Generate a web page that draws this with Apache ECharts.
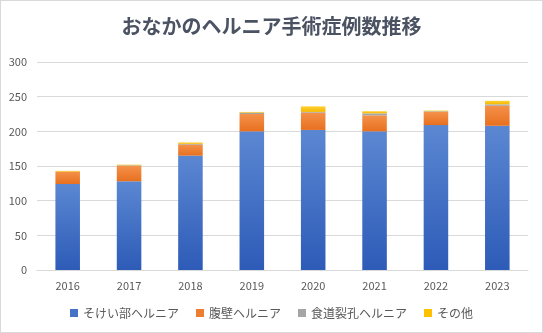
<!DOCTYPE html>
<html>
<head>
<meta charset="utf-8">
<script src="https://cdn.jsdelivr.net/npm/echarts@6/dist/echarts.min.js"></script>
<style>
html,body{margin:0;padding:0;background:#fff;}
#c{width:541px;height:331px;border:1px solid #d9d9d9;}
</style>
</head>
<body>
<div id="c"></div>
<script>
const categories = ['2016','2017','2018','2019','2020','2021','2022','2023'];
const inguinal = [124,128,165,200,202,200,209,208];
const ventral  = [18,22,16,25,25,23,19,29];
const hiatal   = [0,1,1,2,1,3,1,2];
const other    = [1,1,2,1,8,3,1,5];
const seriesNames = ['そけい部ヘルニア','腹壁ヘルニア','食道裂孔ヘルニア','その他'];
const yTicks = [0,50,100,150,200,250,300];

const grad = (top, bottom) => new echarts.graphic.LinearGradient(0,0,0,1,[{offset:0,color:top},{offset:1,color:bottom}]);
const font = '"Noto Sans CJK JP", "Noto Sans", sans-serif';
const chart = echarts.init(document.getElementById('c'));
const mk = (name, data, color) => ({
  name, type:'bar', stack:'total', data, barWidth:'40%',
  itemStyle:{color}, emphasis:{disabled:true}
});
chart.setOption({
  animation:false,
  title:{text:'おなかのヘルニア手術症例数推移', left:'center', top:10,
    textStyle:{fontFamily:font, fontSize:20, fontWeight:'bold', color:'#4b5363'}},
  legend:{bottom:8, left:'center', itemWidth:8, itemHeight:8, itemGap:17, icon:'rect',
    textStyle:{fontFamily:font, fontSize:12, color:'#595959'},
    data:[
      {name:seriesNames[0], itemStyle:{color:'#4472C4'}},
      {name:seriesNames[1], itemStyle:{color:'#ED7D31'}},
      {name:seriesNames[2], itemStyle:{color:'#A5A5A5'}},
      {name:seriesNames[3], itemStyle:{color:'#FFC000'}}
    ]},
  grid:{left:36, right:14, top:61, bottom:62, containLabel:false},
  xAxis:{type:'category', data:categories,
    axisLine:{lineStyle:{color:'#d9d9d9'}}, axisTick:{show:false},
    axisLabel:{fontFamily:font, fontSize:11, color:'#595959', margin:10}},
  yAxis:{type:'value', min:yTicks[0], max:yTicks[yTicks.length-1], interval:50,
    axisLine:{show:false}, axisTick:{show:false},
    splitLine:{lineStyle:{color:'#d9d9d9'}},
    axisLabel:{fontFamily:font, fontSize:11, color:'#595959', margin:10}},
  series:[
    mk(seriesNames[0], inguinal, grad('#5b87d2','#2d5bb7')),
    mk(seriesNames[1], ventral, grad('#f4914a','#e8701f')),
    mk(seriesNames[2], hiatal, grad('#b5b5b5','#9a9a9a')),
    mk(seriesNames[3], other, grad('#ffd030','#f5b800'))
  ]
});
</script>
</body>
</html>
